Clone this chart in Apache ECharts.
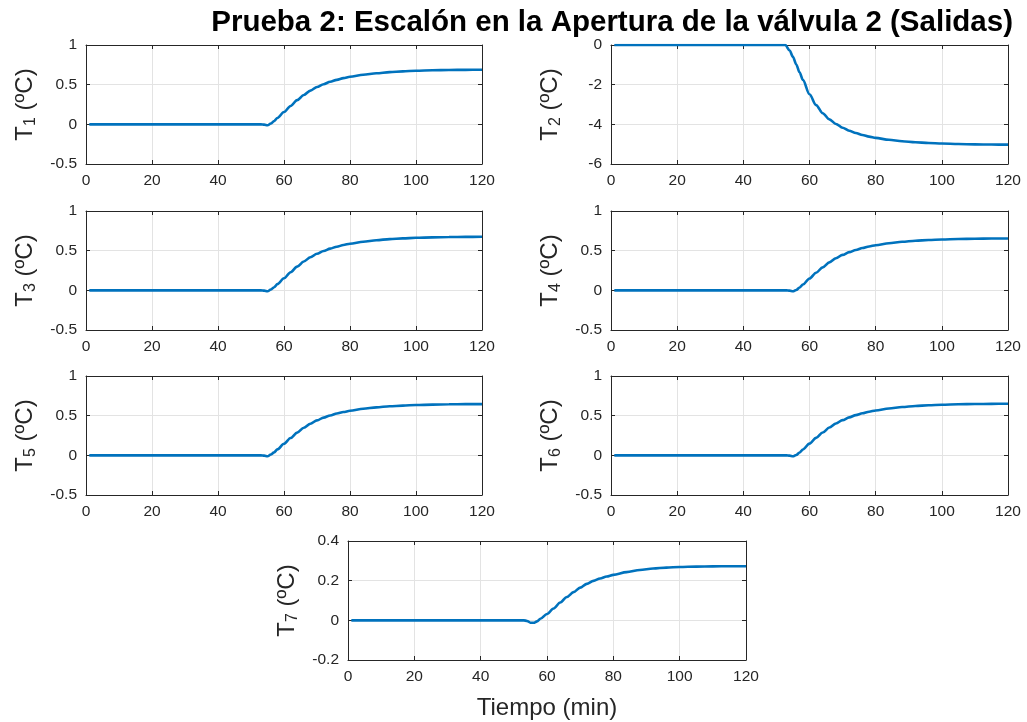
<!DOCTYPE html>
<html>
<head>
<meta charset="utf-8">
<script src="https://cdn.jsdelivr.net/npm/echarts@6/dist/echarts.min.js"></script>
<style>
html,body{margin:0;padding:0;background:#fff;}
#chart{width:1027px;height:722px;}
</style>
</head>
<body>
<div id="chart"></div>
<script>
// ---- data ----
var tituloGeneral = 'Prueba 2: Escalón en la Apertura de la válvula 2 (Salidas)';
var etiquetaX = 'Tiempo (min)';
var subindices = ['1', '2', '3', '4', '5', '6', '7'];

var tiempoA = [1, 10, 20, 30, 40, 50, 53, 54, 55, 56, 57, 58, 60, 62, 64, 66, 68, 70, 72, 74, 76, 78, 80, 84, 88, 92, 96, 100, 105, 110, 115, 120];
var tiempoB = [1, 10, 20, 30, 40, 50, 52.7, 54, 55, 56, 57, 58, 60, 62, 64, 66, 68, 70, 72, 74, 76, 78, 80, 84, 88, 92, 96, 100, 105, 110, 115, 120];

var T1 = [0, 0, 0, 0, 0, 0, 0, -0.004, -0.012, 0.01, 0.04, 0.08, 0.155, 0.232, 0.305, 0.37, 0.425, 0.47, 0.506, 0.536, 0.561, 0.582, 0.599, 0.625, 0.644, 0.658, 0.668, 0.675, 0.681, 0.685, 0.687, 0.688];
var T2 = [0, 0, 0, 0, 0, 0, 0, -0.28, -0.6, -0.98, -1.38, -1.76, -2.48, -3.03, -3.44, -3.75, -3.98, -4.17, -4.32, -4.44, -4.54, -4.62, -4.685, -4.78, -4.85, -4.9, -4.94, -4.97, -4.995, -5.01, -5.02, -5.025];
var T3 = [0, 0, 0, 0, 0, 0, 0, -0.004, -0.012, 0.01, 0.039, 0.078, 0.152, 0.228, 0.299, 0.363, 0.417, 0.461, 0.496, 0.526, 0.55, 0.571, 0.588, 0.613, 0.632, 0.646, 0.655, 0.662, 0.668, 0.672, 0.674, 0.675];
var T4 = [0, 0, 0, 0, 0, 0, 0, -0.004, -0.012, 0.005, 0.035, 0.073, 0.15, 0.222, 0.29, 0.352, 0.404, 0.447, 0.481, 0.509, 0.533, 0.553, 0.569, 0.594, 0.612, 0.625, 0.635, 0.641, 0.647, 0.651, 0.653, 0.654];
var T5 = [0, 0, 0, 0, 0, 0, 0, -0.004, -0.012, 0.01, 0.037, 0.075, 0.146, 0.218, 0.286, 0.347, 0.399, 0.441, 0.475, 0.503, 0.527, 0.546, 0.562, 0.587, 0.605, 0.618, 0.627, 0.634, 0.639, 0.643, 0.645, 0.646];
var T6 = [0, 0, 0, 0, 0, 0, 0, -0.004, -0.012, 0.005, 0.035, 0.073, 0.148, 0.22, 0.288, 0.35, 0.402, 0.444, 0.478, 0.507, 0.53, 0.55, 0.566, 0.591, 0.609, 0.622, 0.631, 0.638, 0.644, 0.647, 0.649, 0.65];
var T7 = [0, 0, 0, 0, 0, 0, 0, -0.003, -0.012, -0.012, -0.005, 0.008, 0.032, 0.06, 0.09, 0.118, 0.142, 0.165, 0.184, 0.199, 0.211, 0.221, 0.229, 0.243, 0.254, 0.261, 0.266, 0.269, 0.271, 0.272, 0.273, 0.273];

var ticksX = {min: 0, max: 120, interval: 20};
var ticksY = [
  {min: -0.5, max: 1, interval: 0.5},
  {min: -6, max: 0, interval: 2},
  {min: -0.5, max: 1, interval: 0.5},
  {min: -0.5, max: 1, interval: 0.5},
  {min: -0.5, max: 1, interval: 0.5},
  {min: -0.5, max: 1, interval: 0.5},
  {min: -0.2, max: 0.4, interval: 0.2}
];

var series_data = [
  {t: tiempoA, y: T1},
  {t: tiempoB, y: T2},
  {t: tiempoA, y: T3},
  {t: tiempoA, y: T4},
  {t: tiempoA, y: T5},
  {t: tiempoA, y: T6},
  {t: tiempoA, y: T7}
];

// ---- layout ----
var grids = [
  {left: 86, top: 45, width: 396, height: 119},
  {left: 611, top: 45, width: 397, height: 119},
  {left: 86, top: 211, width: 396, height: 119},
  {left: 611, top: 211, width: 397, height: 119},
  {left: 86, top: 376, width: 396, height: 119},
  {left: 611, top: 376, width: 397, height: 119},
  {left: 348, top: 541, width: 398, height: 119}
];

var FONT = "'Liberation Sans', Arial, Helvetica, sans-serif";
var AX = '#262626';
var GRIDC = '#e3e3e3';
var LINEC = '#0072BD';

var xAxes = [], yAxes = [], series = [];
grids.forEach(function (g, i) {
  var tickStyle = {show: true, inside: true, length: 4, lineStyle: {color: AX, width: 1}};
  xAxes.push({
    type: 'value', gridIndex: i, position: 'bottom',
    min: ticksX.min, max: ticksX.max, interval: ticksX.interval,
    axisLine: {show: true, onZero: false, lineStyle: {color: AX, width: 1}},
    axisTick: tickStyle,
    axisLabel: {show: true, color: AX, fontSize: 15.5, fontFamily: FONT, margin: 9},
    splitLine: {show: true, lineStyle: {color: GRIDC, width: 1}},
    name: i === 6 ? etiquetaX : '',
    nameLocation: 'middle', nameGap: 36,
    nameTextStyle: {color: AX, fontSize: 24, fontFamily: FONT}
  });
  xAxes.push({
    type: 'value', gridIndex: i, position: 'top',
    min: ticksX.min, max: ticksX.max, interval: ticksX.interval,
    axisLine: {show: true, onZero: false, lineStyle: {color: AX, width: 1}},
    axisTick: tickStyle, axisLabel: {show: false}, splitLine: {show: false}
  });
  var ty = ticksY[i];
  yAxes.push({
    type: 'value', gridIndex: i, position: 'left',
    min: ty.min, max: ty.max, interval: ty.interval,
    axisLine: {show: true, onZero: false, lineStyle: {color: AX, width: 1}},
    axisTick: tickStyle,
    axisLabel: {show: true, color: AX, fontSize: 15.5, fontFamily: FONT, margin: 9},
    splitLine: {show: true, lineStyle: {color: GRIDC, width: 1}},
    name: '{t|T}{s|' + subindices[i] + '}{t| (ºC)}',
    nameLocation: 'middle', nameRotate: 90, nameGap: 47,
    nameTextStyle: {
      color: AX, fontFamily: FONT,
      rich: {
        t: {fontSize: 24, lineHeight: 28, color: AX, fontFamily: FONT},
        s: {fontSize: 16, lineHeight: 13, verticalAlign: 'bottom', color: AX, fontFamily: FONT}
      }
    }
  });
  yAxes.push({
    type: 'value', gridIndex: i, position: 'right',
    min: ty.min, max: ty.max, interval: ty.interval,
    axisLine: {show: true, onZero: false, lineStyle: {color: AX, width: 1}},
    axisTick: tickStyle, axisLabel: {show: false}, splitLine: {show: false}
  });
  var d = series_data[i];
  series.push({
    type: 'line', xAxisIndex: 2 * i, yAxisIndex: 2 * i,
    data: d.t.map(function (t, k) { return [t, d.y[k]]; }),
    showSymbol: false, smooth: 0.3, smoothMonotone: 'x',
    lineStyle: {color: LINEC, width: 2.6},
    itemStyle: {color: LINEC},
    animation: false
  });
});

var chart = echarts.init(document.getElementById('chart'), null, {renderer: 'canvas'});
chart.setOption({
  backgroundColor: '#ffffff',
  animation: false,
  title: {
    text: tituloGeneral, right: 9, top: 3,
    textStyle: {fontSize: 29.5, fontWeight: 'bold', color: '#000', fontFamily: FONT}
  },
  grid: grids.map(function (g) { return {left: g.left, top: g.top, width: g.width, height: g.height, containLabel: false}; }),
  xAxis: xAxes,
  yAxis: yAxes,
  series: series
});
</script>
</body>
</html>
